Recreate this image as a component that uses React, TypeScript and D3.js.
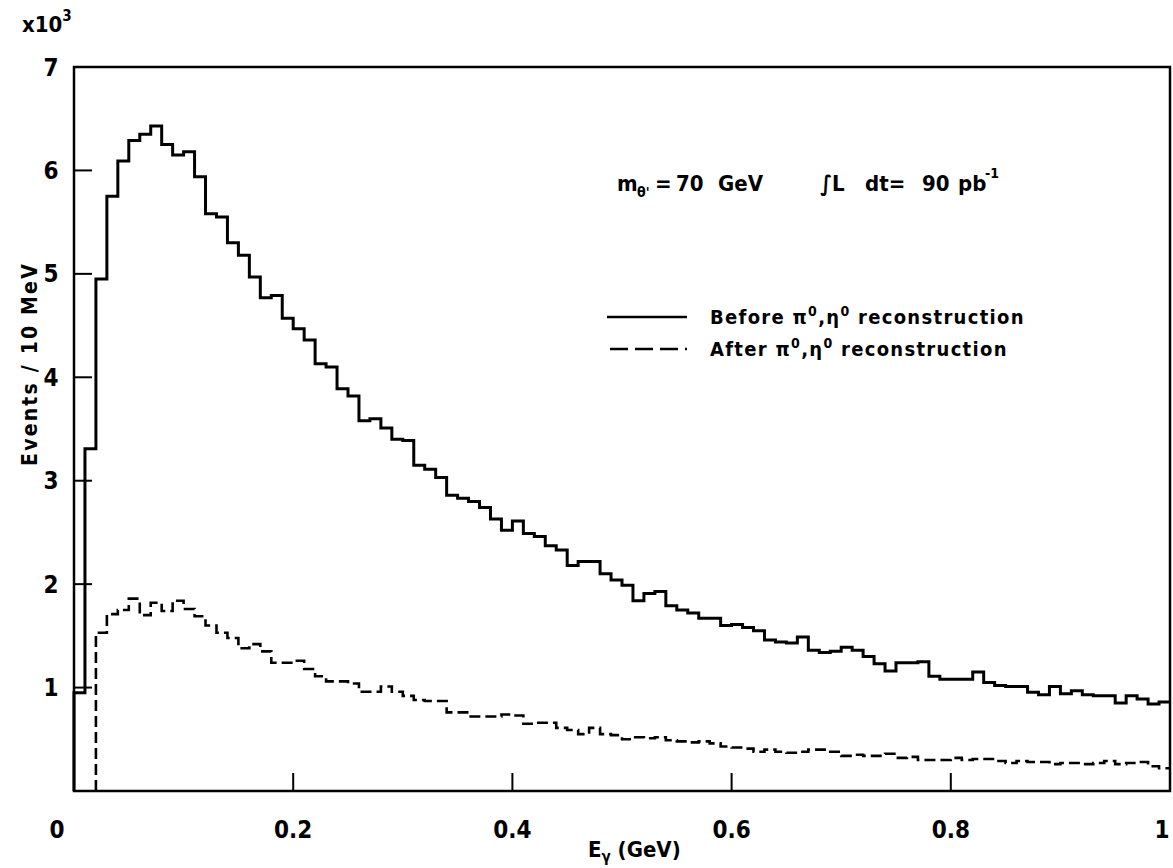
import React from 'react';
import * as d3 from 'd3';

// Histogram bin width (GeV)
const BIN_WIDTH = 0.01;

// "Before π0,η0 reconstruction" — first bin index and values (x10^3 events / 10 MeV)
const beforeStartBin = 0;
const beforeValues = [
  0.95, 3.31, 4.95, 5.75, 6.09, 6.29, 6.35, 6.43, 6.25, 6.15,
  6.18, 5.94, 5.58, 5.55, 5.30, 5.18, 4.97, 4.77, 4.79, 4.57,
  4.47, 4.36, 4.13, 4.10, 3.89, 3.82, 3.58, 3.60, 3.51, 3.40,
  3.39, 3.15, 3.11, 3.03, 2.86, 2.83, 2.80, 2.74, 2.63, 2.52,
  2.61, 2.49, 2.46, 2.37, 2.33, 2.18, 2.22, 2.22, 2.10, 2.04,
  1.99, 1.84, 1.91, 1.93, 1.79, 1.75, 1.72, 1.67, 1.67, 1.60,
  1.61, 1.58, 1.55, 1.46, 1.44, 1.43, 1.49, 1.36, 1.34, 1.35,
  1.39, 1.36, 1.30, 1.23, 1.16, 1.24, 1.24, 1.25, 1.11, 1.08,
  1.08, 1.08, 1.15, 1.05, 1.02, 1.01, 1.01, 0.955, 0.93, 1.01,
  0.94, 0.97, 0.93, 0.92, 0.92, 0.85, 0.92, 0.89, 0.84, 0.86,
];

// "After π0,η0 reconstruction"
const afterStartBin = 2;
const afterValues = [
  1.53, 1.71, 1.75, 1.86, 1.70, 1.82, 1.74, 1.84,
  1.76, 1.69, 1.60, 1.53, 1.48, 1.38, 1.42, 1.35, 1.24, 1.24,
  1.26, 1.18, 1.11, 1.06, 1.06, 1.04, 0.96, 0.96, 1.01, 0.96,
  0.92, 0.88, 0.87, 0.87, 0.76, 0.76, 0.72, 0.72, 0.72, 0.74,
  0.73, 0.65, 0.66, 0.66, 0.61, 0.59, 0.55, 0.61, 0.55, 0.54,
  0.50, 0.52, 0.51, 0.52, 0.49, 0.48, 0.47, 0.48, 0.46, 0.43,
  0.42, 0.41, 0.38, 0.40, 0.38, 0.37, 0.38, 0.40, 0.40, 0.38,
  0.34, 0.35, 0.34, 0.34, 0.36, 0.32, 0.33, 0.30, 0.30, 0.30,
  0.32, 0.30, 0.31, 0.31, 0.29, 0.27, 0.29, 0.28, 0.28, 0.26,
  0.27, 0.27, 0.26, 0.27, 0.29, 0.26, 0.27, 0.28, 0.24, 0.22,
];

const xTickValues = [0, 0.2, 0.4, 0.6, 0.8, 1];
const xTickLabels = ['0', '0.2', '0.4', '0.6', '0.8', '1'];
const yTickValues = [1, 2, 3, 4, 5, 6, 7];
const yTickLabels = ['1', '2', '3', '4', '5', '6', '7'];

const FONT = '"DejaVu Sans Condensed", "DejaVu Sans", sans-serif';

export default function App() {
  const W = 1173;
  const H = 868;
  const x = d3.scaleLinear().domain([0, 1]).range([74, 1170]);
  const y = d3.scaleLinear().domain([0, 7]).range([791, 67]);

  const histPath = (start: number, vals: number[]) => {
    const pts: [number, number][] = [[start * BIN_WIDTH, 0]];
    vals.forEach((v, i) => {
      const x0 = (start + i) * BIN_WIDTH;
      pts.push([x0, v], [x0 + BIN_WIDTH, v]);
    });
    return d3
      .line<[number, number]>()
      .x((d) => x(d[0]))
      .y((d) => y(d[1]))(pts) as string;
  };

  const txt = { fontFamily: FONT, fontWeight: 700, fill: '#000' } as const;

  return (
    <svg
      width={W}
      height={H}
      viewBox={`0 0 ${W} ${H}`}
      style={{ position: 'absolute', left: 0, top: 0, background: '#fff' }}
    >
      <rect x={0} y={0} width={W} height={H} fill="#fff" />

      {/* histograms */}
      <path d={histPath(beforeStartBin, beforeValues)} fill="none" stroke="#000" strokeWidth={3} />
      <path
        d={histPath(afterStartBin, afterValues)}
        fill="none"
        stroke="#000"
        strokeWidth={2.6}
        strokeDasharray="11,5"
      />

      {/* frame */}
      <rect
        x={x(0)}
        y={y(7)}
        width={x(1) - x(0)}
        height={y(0) - y(7)}
        fill="none"
        stroke="#000"
        strokeWidth={2.5}
      />

      {/* y ticks */}
      {yTickValues.slice(0, 6).map((v) => (
        <line key={'yt' + v} x1={x(0)} x2={x(0) + 18} y1={y(v)} y2={y(v)} stroke="#000" strokeWidth={2} />
      ))}
      {yTickValues.map((v, i) => (
        <text key={'yl' + v} x={51} y={y(v)} dy="0.36em" textAnchor="middle" fontSize={24} {...txt}>
          {yTickLabels[i]}
        </text>
      ))}

      {/* x ticks */}
      {xTickValues.slice(1, 5).map((v) => (
        <line key={'xt' + v} x1={x(v)} x2={x(v)} y1={y(0)} y2={y(0) - 18} stroke="#000" strokeWidth={2} />
      ))}
      {xTickValues.map((v, i) => (
        <text
          key={'xl' + v}
          x={i === 0 ? x(v) - 17 : v === 1 ? x(v) - 8 : x(v)}
          y={829}
          dy="0.36em"
          textAnchor="middle"
          fontSize={24}
          {...txt}
        >
          {xTickLabels[i]}
        </text>
      ))}

      {/* x10^3 */}
      <text x={22} y={32} fontSize={22} {...txt}>
        x10<tspan fontSize={15} dy={-11}>3</tspan>
      </text>

      {/* axis titles */}
      <text
        transform={`translate(37, 364) rotate(-90)`}
        textAnchor="middle"
        fontSize={21}
        letterSpacing={2.2}
        {...txt}
      >
        Events / 10 MeV
      </text>
      <text x={588} y={857} fontSize={22} {...txt}>
        E<tspan fontSize={15} dy={5}>γ</tspan>
        <tspan dy={-5}>{'  (GeV)'}</tspan>
      </text>

      {/* annotations */}
      <g fontSize={22} {...txt}>
        <text x={617} y={191}>m</text>
        <text x={637} y={197} fontSize={14}>θ'</text>
        <text x={655} y={191}>=</text>
        <text x={676} y={191}>70</text>
        <text x={718} y={191}>GeV</text>
        <text x={820} y={191}>∫L</text>
        <text x={865} y={191}>dt=</text>
        <text x={922} y={191}>90</text>
        <text x={958} y={191}>pb</text>
        <text x={985} y={178} fontSize={14}>-1</text>
      </g>

      {/* legend */}
      <line x1={607} x2={687} y1={317} y2={317} stroke="#000" strokeWidth={2.5} />
      <text x={710} y={317} dy="0.36em" fontSize={20} letterSpacing={1.3} {...txt}>
        Before π<tspan fontSize={14} dy={-8}>0</tspan>
        <tspan dy={8}>,η</tspan>
        <tspan fontSize={14} dy={-8}>0</tspan>
        <tspan dy={8}> reconstruction</tspan>
      </text>
      <line
        x1={610}
        x2={687}
        y1={349}
        y2={349}
        stroke="#000"
        strokeWidth={2.5}
        strokeDasharray="18,7"
      />
      <text x={710} y={349} dy="0.36em" fontSize={20} letterSpacing={1.3} {...txt}>
        After π<tspan fontSize={14} dy={-8}>0</tspan>
        <tspan dy={8}>,η</tspan>
        <tspan fontSize={14} dy={-8}>0</tspan>
        <tspan dy={8}> reconstruction</tspan>
      </text>
    </svg>
  );
}
